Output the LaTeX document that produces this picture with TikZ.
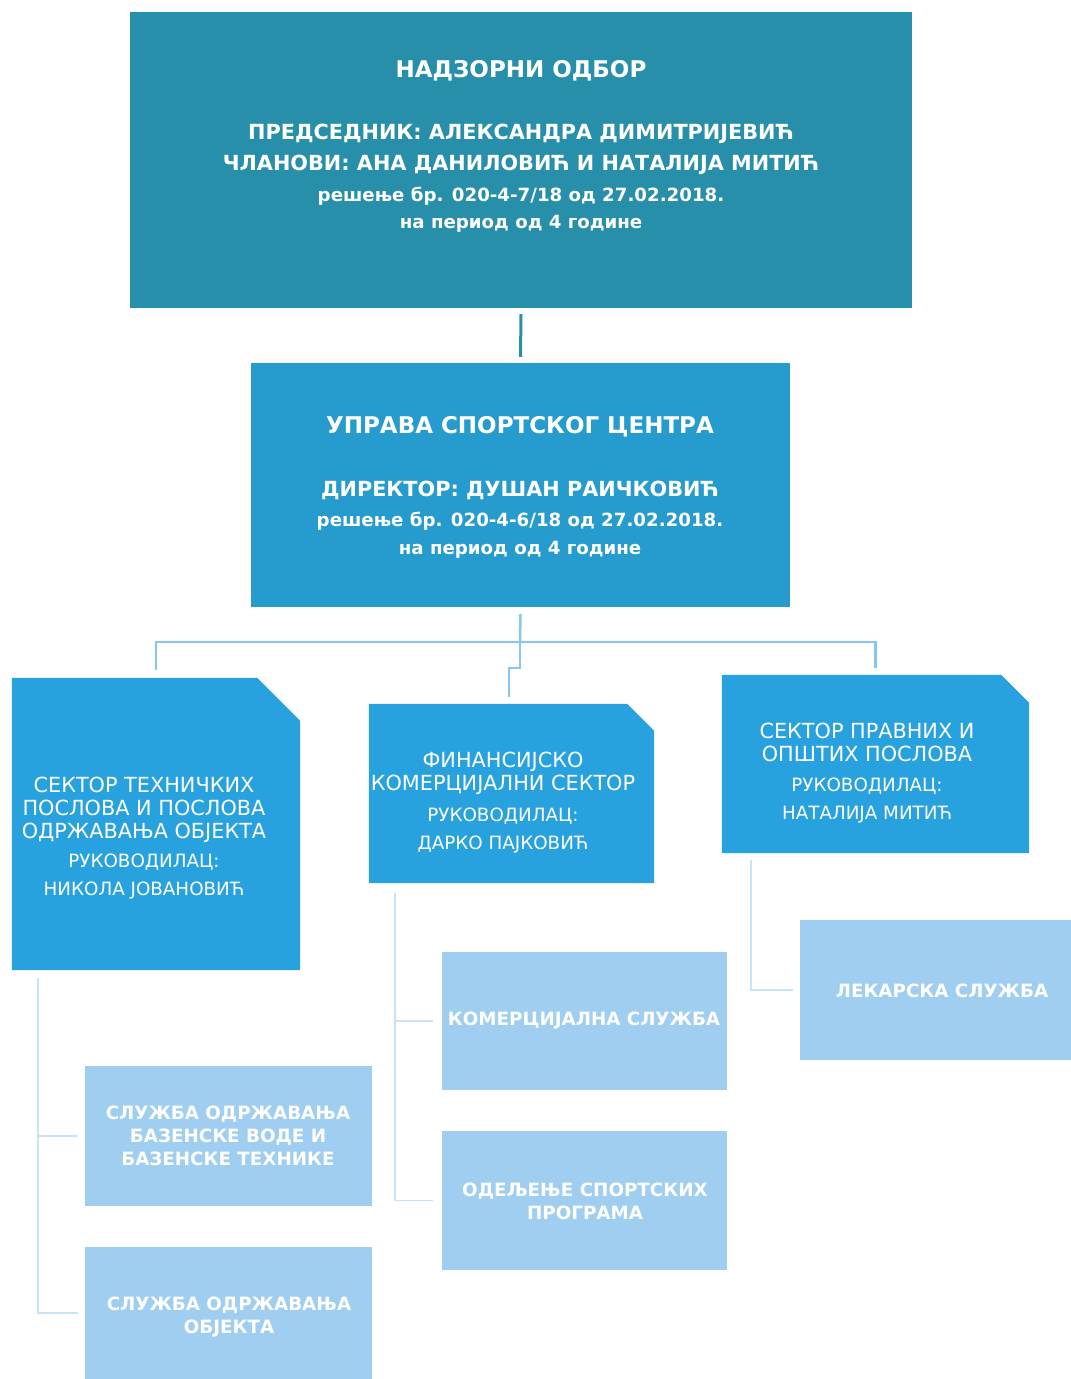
\documentclass[tikz,border=0pt]{standalone}
\usepackage{fontspec}
\setmainfont{DejaVu Sans}
\definecolor{topblue}{RGB}{40,143,170}
\definecolor{upblue}{RGB}{38,155,205}
\definecolor{secblue}{RGB}{40,162,222}
\definecolor{subblue}{RGB}{160,206,240}
\definecolor{busblue}{RGB}{135,198,240}
\definecolor{railblue}{RGB}{200,227,246}
\tikzset{
  box/.style={rectangle, inner sep=0pt, draw=none},
  headtxt/.style={text=white, align=center, inner sep=0pt, font=\bfseries\fontsize{20.8}{31}\selectfont},
  sectxt/.style={text=white, align=center, inner sep=0pt, font=\fontsize{20.8}{23}\selectfont},
  subtxt/.style={text=white, align=center, inner sep=0pt, font=\bfseries\fontsize{18.3}{23}\selectfont},
  topline/.style={draw=topblue, line width=3pt},
  busline/.style={draw=busblue, line width=2.5pt},
  railline/.style={draw=railblue, line width=1.5pt}
}
\newcommand{\bigline}[1]{{\fontsize{23}{28}\selectfont #1}}
\newcommand{\smallline}[1]{{\fontsize{18.2}{28}\selectfont #1}}
\newcommand{\headline}[1]{{\fontsize{18.3}{23}\selectfont #1}}
\begin{document}
\begin{tikzpicture}[x=1pt, y=-1pt]
\useasboundingbox (0,0) rectangle (1071,1379);
% boxes
\node[box, fill=topblue, minimum width=782, minimum height=296] (nadzor) at (521,160) {};
\node[box, fill=upblue, minimum width=539, minimum height=244] (uprava) at (520.5,485) {};
\node[box, minimum width=288, minimum height=292] (sekTeh) at (156,824) {};
\node[box, minimum width=285, minimum height=179] (sekFin) at (511.5,793.5) {};
\node[box, minimum width=307, minimum height=178] (sekPrav) at (875.5,764) {};
\node[box, fill=subblue, minimum width=287, minimum height=140] (bazen) at (228.5,1136) {};
\node[box, fill=subblue, minimum width=287, minimum height=132] (objekat) at (228.5,1313) {};
\node[box, fill=subblue, minimum width=285, minimum height=138] (komerc) at (584.5,1021) {};
\node[box, fill=subblue, minimum width=285, minimum height=139] (sport) at (584.5,1200.5) {};
\node[box, fill=subblue, minimum width=271, minimum height=140] (lekar) at (935.5,990) {};
% sector boxes with cut corner
\foreach \n/\c in {sekTeh/43, sekFin/27, sekPrav/28}
  \fill[secblue] (\n.south west) |- ([xshift=-\c pt]\n.north east)
    -- ([yshift=-\c pt]\n.north east) -- (\n.south east) -- cycle;
% connectors
\coordinate (bus) at (520,642);
\coordinate (finJog) at (520,668);
\coordinate (finDrop) at ([xshift=-2.5pt, yshift=7pt]sekFin.north);
\draw[topline] ([yshift=-6pt]nadzor.south) -- ([yshift=6pt]uprava.north);
\draw[busline] ([yshift=-7pt]uprava.south) -- (bus);
\draw[busline] (bus) -| ([yshift=8pt]sekTeh.north);
\draw[busline] (bus) -| ([yshift=7pt]sekPrav.north);
\draw[busline] (bus) -- (finJog) -| (finDrop);
\coordinate (tehRail) at ([xshift=-118pt, yshift=-8pt]sekTeh.south);
\coordinate (finRail) at ([xshift=-116.5pt, yshift=-10pt]sekFin.south);
\coordinate (pravRail) at ([xshift=-124.5pt, yshift=-7pt]sekPrav.south);
\draw[railline] (tehRail) |- ([xshift=-7pt]bazen.west);
\draw[railline] (tehRail) |- ([xshift=-7pt]objekat.west);
\draw[railline] (finRail) |- ([xshift=-9pt]komerc.west);
\draw[railline] (finRail) |- ([xshift=-9pt]sport.west);
\draw[railline] (pravRail) |- ([xshift=-7pt]lekar.west);
% texts
\node[headtxt] (nadzorTxt) at (521,146) {\bigline{НАДЗОРНИ ОДБОР}\\[31pt]
  ПРЕДСЕДНИК: АЛЕКСАНДРА ДИМИТРИЈЕВИЋ\\
  ЧЛАНОВИ: АНА ДАНИЛОВИЋ И НАТАЛИЈА МИТИЋ\\
  \smallline{решење бр. 020-4-7/18 од 27.02.2018.}\\[-4pt]
  \smallline{на период од 4 године}};
\node[headtxt] (upravaTxt) at (520,487) {\bigline{УПРАВА СПОРТСКОГ ЦЕНТРА}\\[32pt]
  ДИРЕКТОР: ДУШАН РАИЧКОВИЋ\\[-1pt]
  \smallline{решење бр. 020-4-6/18 од 27.02.2018.}\\[-3pt]
  \smallline{на период од 4 године}};
\node[sectxt] (sekTehTxt) at (144,838) {СЕКТОР ТЕХНИЧКИХ\\ ПОСЛОВА И ПОСЛОВА\\ ОДРЖАВАЊА ОБЈЕКТА\\[6pt]
  \headline{РУКОВОДИЛАЦ:}\\[5pt] \headline{НИКОЛА ЈОВАНОВИЋ}};
\node[sectxt] (sekFinTxt) at (503,803) {ФИНАНСИЈСКО\\ КОМЕРЦИЈАЛНИ СЕКТОР\\[8pt]
  \headline{РУКОВОДИЛАЦ:}\\[5pt] \headline{ДАРКО ПАЈКОВИЋ}};
\node[sectxt] (sekPravTxt) at (867,773) {СЕКТОР ПРАВНИХ И\\ ОПШТИХ ПОСЛОВА\\[7pt]
  \headline{РУКОВОДИЛАЦ:}\\[5pt] \headline{НАТАЛИЈА МИТИЋ}};
\node[subtxt] (bazenTxt) at (228,1136) {СЛУЖБА ОДРЖАВАЊА\\ БАЗЕНСКЕ ВОДЕ И\\ БАЗЕНСКЕ ТЕХНИКЕ};
\node[subtxt] (objekatTxt) at (229,1317) {СЛУЖБА ОДРЖАВАЊА\\ ОБЈЕКТА};
\node[subtxt] (komercTxt) at (584,1021) {КОМЕРЦИЈАЛНА СЛУЖБА};
\node[subtxt] (sportTxt) at (585,1201) {ОДЕЉЕЊЕ СПОРТСКИХ\\ ПРОГРАМА};
\node[subtxt] (lekarTxt) at (942,991) {ЛЕКАРСКА СЛУЖБА};
\end{tikzpicture}
\end{document}
